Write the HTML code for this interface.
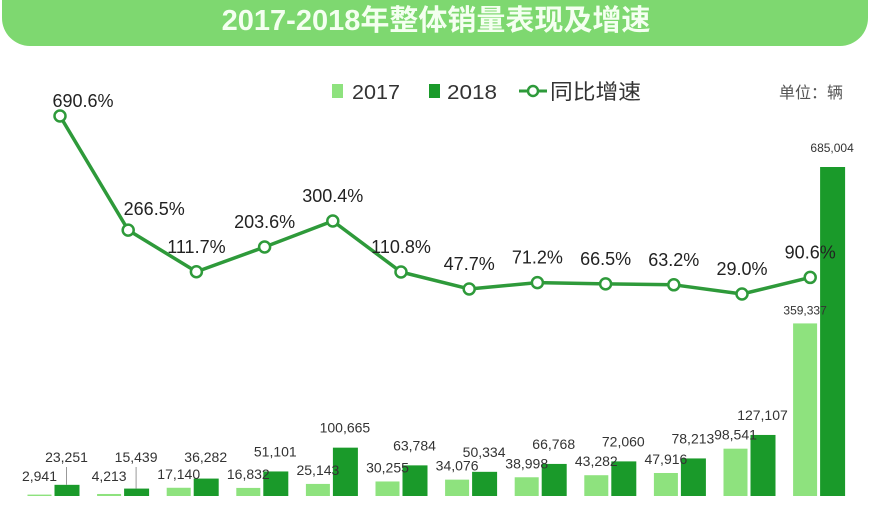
<!DOCTYPE html>
<html><head><meta charset="utf-8"><style>
body{margin:0;background:#fff;}
svg text{font-family:"Liberation Sans","Noto Sans CJK SC",sans-serif;}
</style></head><body>
<svg width="873" height="510" viewBox="0 0 873 510" xmlns="http://www.w3.org/2000/svg">
<rect x="2" y="-30" width="866" height="76" rx="28" fill="#7ed870"/>
<text x="436" y="30" text-anchor="middle" font-size="29" font-weight="bold" fill="#f4fff0">2017-2018年整体销量表现及增速</text>
<g>
<rect x="332" y="84" width="11" height="14" fill="#8ee27e"/>
<text x="352" y="99" font-size="20" textLength="48" lengthAdjust="spacingAndGlyphs" fill="#333">2017</text>
<rect x="429" y="84" width="11" height="14" fill="#1a9a2a"/>
<text x="447" y="99" font-size="20" textLength="50" lengthAdjust="spacingAndGlyphs" fill="#333">2018</text>
<line x1="519" y1="91" x2="547" y2="91" stroke="#2e9a3a" stroke-width="3"/>
<circle cx="533" cy="91" r="5" fill="#fff" stroke="#2e9a3a" stroke-width="2.5"/>
<text x="550" y="99" font-size="21" textLength="91" lengthAdjust="spacingAndGlyphs" fill="#333">同比增速</text>
</g>
<text x="843" y="98" text-anchor="end" font-size="16" fill="#555">单位：辆</text>
<g id="bars"></g><g id="line"></g>
</svg>
<script>
const categories=["1","2","3","4","5","6","7","8","9","10","11","12"];
const sales2017=[2941,4213,17140,16832,25143,30255,34076,38998,43282,47916,98541,359337];
const sales2018=[23251,15439,36282,51101,100665,63784,50334,66768,72060,78213,127107,685004];
const growth=[690.6,266.5,111.7,203.6,300.4,110.8,47.7,71.2,66.5,63.2,29.0,90.6];
const NS="http://www.w3.org/2000/svg";
const base=496, barScale=329/685004;
const barX=i=>53.5+69.6*i;
const barY=v=>base-v*barScale;
const lineX=i=>60+68.2*i;
const lineY=v=>301.8-0.269*v;
const fmt=v=>v.toLocaleString('en-US');
function mk(tag,attrs,parent){const e=document.createElementNS(NS,tag);for(const k in attrs)e.setAttribute(k,attrs[k]);parent.appendChild(e);return e;}
const bars=document.getElementById('bars'), line=document.getElementById('line');
categories.forEach((c,i)=>{
  const cx=barX(i);
  const t1=barY(sales2017[i]), t2=barY(sales2018[i]);
  const b1=mk('rect',{x:cx-26,y:t1,width:24,height:Math.max(base-t1,1),fill:'#8ee27e'},bars);
  
  
  const b2=mk('rect',{x:cx+1,y:t2,width:25,height:base-t2,fill:'#1a9a2a'},bars);
  
  
  const last=i===categories.length-1;
  const l1y=Math.min(481,t1-9);
  const l1=mk('text',{x:cx-14,y:l1y,'text-anchor':'middle','font-size':last?12:14,fill:'#333'},bars);
  l1.textContent=fmt(sales2017[i]);
  
  
  const l2y=Math.min(462,t2-15);
  const l2=mk('text',{x:cx+13,y:l2y,'text-anchor':'middle','font-size':last?12:14,fill:'#333'},bars);
  l2.textContent=fmt(sales2018[i]);
  
  
  if(t2-l2y>20){const ld=mk('line',{x1:cx+13,y1:l2y+5,x2:cx+13,y2:t2,stroke:'#999','stroke-width':1},bars);
  
  }
});
const pts=growth.map((v,i)=>lineX(i)+','+lineY(v)).join(' ');
const pl=mk('polyline',{points:pts,fill:'none',stroke:'#2e9a3a','stroke-width':3.5,'stroke-linejoin':'round'},line);


growth.forEach((v,i)=>{
  const x=lineX(i),y=lineY(v);
  const m=mk('circle',{cx:x,cy:y,r:5.5,fill:'#fff',stroke:'#2e9a3a','stroke-width':2.5},line);
  
  
  const dx=i===0?23:(i===1?26:0), dy=i===0?-9:(i===1?-15:-19);
  const t=mk('text',{x:x+dx,y:y+dy,'text-anchor':'middle','font-size':18,fill:'#222'},line);
  t.textContent=v.toFixed(1)+'%';
  
  
});
</script>
</body></html>
